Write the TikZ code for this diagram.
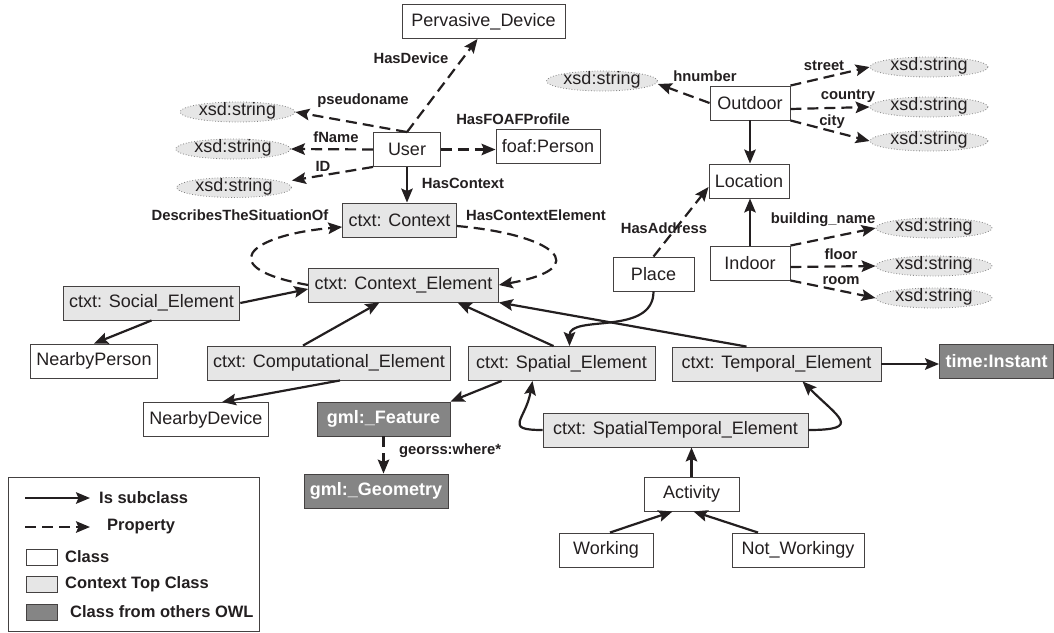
\documentclass[tikz,border=0pt]{standalone}
\usepackage{fontspec}
\setmainfont{Liberation Sans}
\usetikzlibrary{positioning,arrows.meta,shapes.geometric}
\usepackage{xcolor}
\definecolor{inkc}{HTML}{231F20}
\definecolor{topgray}{HTML}{E6E6E6}
\definecolor{owlgray}{HTML}{858585}

\begin{document}
\begin{tikzpicture}[
  x=1pt, y=1pt,
  >={Stealth[length=14pt,width=11.5pt,inset=2.5pt]},
  cls/.style={draw=inkc!85, line width=0.9pt, fill=white, text=inkc, minimum height=34pt,
    inner xsep=6pt, inner ysep=0pt, font=\fontsize{18}{21}\selectfont},
  ctxbox/.style={cls, fill=topgray},
  owl/.style={cls, fill=owlgray, text=white, font=\fontsize{18}{21}\selectfont\bfseries},
  xsd/.style={ellipse, draw=gray, dotted, line width=0.8pt, fill=topgray, text=inkc,
    minimum width=115pt, minimum height=20pt, inner sep=0pt, text height=10pt, text depth=3pt,
    font=\fontsize{18}{21}\selectfont},
  lbl/.style={text=inkc, inner sep=0pt, font=\fontsize{14.8}{16}\selectfont\bfseries},
  key/.style={text=inkc, inner sep=0pt, anchor=west, font=\fontsize{16.5}{18}\selectfont\bfseries},
  isa/.style={->, draw=inkc, line width=2.2pt},
  prop/.style={isa, dash pattern=on 11pt off 6pt},
]
\useasboundingbox (0,0) rectangle (1054,-632);

% user and its properties
\node[cls, minimum width=163pt] (device) at (483.5,-21.5) {Pervasive\_Device};
\node[cls, minimum width=67pt] (user) at (407,-149.5) {User};
\node[cls] (foaf) at (548,-146) {foaf:Person};
\node[xsd] (sPseudo) at (237.5,-112) {xsd:string};
\node[xsd] (sName) at (233,-149) {xsd:string};
\node[xsd] (sID) at (234,-187.5) {xsd:string};

\draw[prop] (user.north) -- ([xshift=-6pt]device.south);
\draw[prop] (user.north) -- (sPseudo.east);
\draw[prop] (user.west) -- (sName.east);
\draw[prop] (user.south west) -- ([yshift=7pt]sID.east);
\draw[prop] (user.east) -- (user.east -| foaf.west);

\node[lbl] (lDevice) at (411,-58) {HasDevice};
\node[lbl] (lPseudo) at (363,-101) {pseudoname};
\node[lbl] (lName) at (336,-137) {fName};
\node[lbl] (lID) at (323,-166) {ID};
\node[lbl] (lFoaf) at (513,-119) {HasFOAFProfile};
\node[lbl] (lContext) at (463,-183) {HasContext};

% context core
\node[ctxbox] (context) at (399.5,-220) {ctxt: Context};
\node[ctxbox, minimum width=189pt] (element) at (403.5,-285) {ctxt: Context\_Element};
\draw[isa] (user.south) -- (user.south |- context.north);

\draw[prop] (element.west) .. controls +(170:96) and +(185:96) .. ([yshift=-7pt]context.west);
\draw[prop] ([yshift=-6pt]context.east) .. controls +(-5:98) and +(10:98) .. (element.east);
\node[lbl] (lSituation) at (240,-215) {DescribesTheSituationOf};
\node[lbl] (lHasElement) at (536,-215) {HasContextElement};

% location
\node[cls, minimum width=80pt] (outdoor) at (750,-103) {Outdoor};
\node[cls, minimum width=80pt] (location) at (749,-181) {Location};
\node[cls, minimum width=80pt] (indoor) at (750,-263) {Indoor};
\node[cls, minimum width=81pt] (place) at (653.5,-274) {Place};

\node[xsd, minimum width=111pt] (sNumber) at (602,-81) {xsd:string};
\node[xsd, minimum width=118pt] (sStreet) at (929,-67) {xsd:string};
\node[xsd, minimum width=118pt] (sCountry) at (929,-107) {xsd:string};
\node[xsd, minimum width=118pt] (sCity) at (929,-141) {xsd:string};
\node[xsd, minimum width=116pt] (sBuilding) at (934,-228) {xsd:string};
\node[xsd, minimum width=116pt] (sFloor) at (934,-266) {xsd:string};
\node[xsd, minimum width=116pt] (sRoom) at (934,-298) {xsd:string};

\draw[isa] (outdoor.south) -- (outdoor.south |- location.north);
\draw[isa] (indoor.north) -- (indoor.north |- location.south);
\draw[prop] (outdoor.west) -- ([yshift=-3pt]sNumber.east);
\draw[prop] (outdoor.north east) -- (sStreet.west);
\draw[prop] ([yshift=-6pt]outdoor.east) -- (sCountry.west);
\draw[prop] (outdoor.south east) -- (sCity.west);
\draw[prop] (indoor.north east) -- (sBuilding.west);
\draw[prop] ([yshift=-4pt]indoor.east) -- (sFloor.west);
\draw[prop] (indoor.south east) -- (sRoom.west);
\draw[prop] (place.north) -- ([yshift=-6pt]location.west);

\node[lbl] (lNumber) at (705,-76) {hnumber};
\node[lbl] (lStreet) at (824,-66) {street};
\node[lbl] (lCountry) at (848,-96) {country};
\node[lbl] (lCity) at (832,-122) {city};
\node[lbl] (lAddress) at (664,-228) {HasAddress};
\node[lbl] (lBuilding) at (823,-220) {building\_name};
\node[lbl] (lFloor) at (841,-254) {floor};
\node[lbl] (lRoom) at (841,-281) {room};

% context elements
\node[ctxbox] (social) at (151.5,-303) {ctxt: Social\_Element};
\node[cls] (nPerson) at (94,-361) {NearbyPerson};
\node[ctxbox] (comput) at (329,-363) {ctxt: Computational\_Element};
\node[cls] (nDevice) at (206,-419.5) {NearbyDevice};
\node[ctxbox, minimum width=187pt] (spatial) at (561.5,-363.5) {ctxt: Spatial\_Element};
\node[ctxbox, minimum width=209pt] (temporal) at (776.5,-364) {ctxt: Temporal\_Element};
\node[owl] (instant) at (996.5,-361) {time:Instant};
\node[owl, minimum width=133pt] (feature) at (383.5,-419) {gml:\_Feature};
\node[owl] (geometry) at (376,-491) {gml:\_Geometry};
\node[ctxbox, minimum width=265pt] (spatemp) at (675.5,-430) {ctxt: SpatialTemporal\_Element};

\draw[isa] (social.east) -- ([yshift=-4pt]element.west);
\draw[isa] (social.south) -- (nPerson.north);
\draw[isa] ([xshift=-26pt]comput.north) -- ([xshift=-24pt]element.south);
\draw[isa] ([xshift=11pt]comput.south) -- ([xshift=16pt]nDevice.north);
\draw[isa] ([xshift=-8pt]spatial.north) -- ([xshift=54pt]element.south);
\draw[isa] ([xshift=-30pt]temporal.north) -- (element.south east);
\draw[isa] (place.south) .. controls +(-90:45) and +(90:32) .. ([xshift=8pt]spatial.north);
\draw[isa] ([xshift=34pt]spatial.south west) -- (feature.north east);
\draw[prop] (feature.south) -- (feature.south |- geometry.north);
\node[lbl, anchor=west] (lWhere) at (399,-451) {georss:where*};
\draw[isa] (temporal.east) -- (temporal.east -| instant.west);
\draw[isa] (spatemp.west) .. controls +(180:40) and +(-100:40) .. ([xshift=-29pt]spatial.south);
\draw[isa] (spatemp.east) .. controls +(0:55) and +(-45:50) .. ([xshift=26pt]temporal.south);

% activities
\node[cls, minimum width=95pt] (activity) at (691.5,-494) {Activity};
\node[cls, minimum width=94pt] (working) at (606,-550) {Working};
\node[cls, minimum width=132pt] (notWorking) at (798,-550) {Not\_Workingy};
\draw[isa] (activity.north) -- (activity.north |- spatemp.south);
\draw[isa] ([xshift=4pt]working.north) -- ([xshift=-19pt]activity.south);
\draw[isa] ([xshift=-40pt]notWorking.north) -- ([xshift=2pt]activity.south);

% legend
\node[draw=inkc!85, line width=0.9pt, minimum width=251pt, minimum height=154pt, inner sep=0pt] (legend) at (133.5,-554) {};
\coordinate (kSubA) at (25,-498);
\coordinate (kSubB) at (90,-498);
\coordinate (kPropA) at (25,-527);
\coordinate (kPropB) at (90,-527);
\draw[isa] (kSubA) -- (kSubB);
\draw[prop] (kPropA) -- (kPropB);
\node[key] (kSub) at (99,-498) {Is subclass};
\node[key] (kProp) at (107,-527) {Property};
\node[cls, minimum width=31pt, minimum height=16pt] (kClass) at (41.5,-557) {};
\node[ctxbox, minimum width=31pt, minimum height=16pt] (kTop) at (41.5,-584) {};
\node[owl, minimum width=31pt, minimum height=16pt] (kOwl) at (41.5,-612) {};
\node[key] (kClassT) at (65,-557) {Class};
\node[key] (kTopT) at (65,-584) {Context Top Class};
\node[key] (kOwlT) at (70,-612) {Class from others OWL};
\end{tikzpicture}
\end{document}
